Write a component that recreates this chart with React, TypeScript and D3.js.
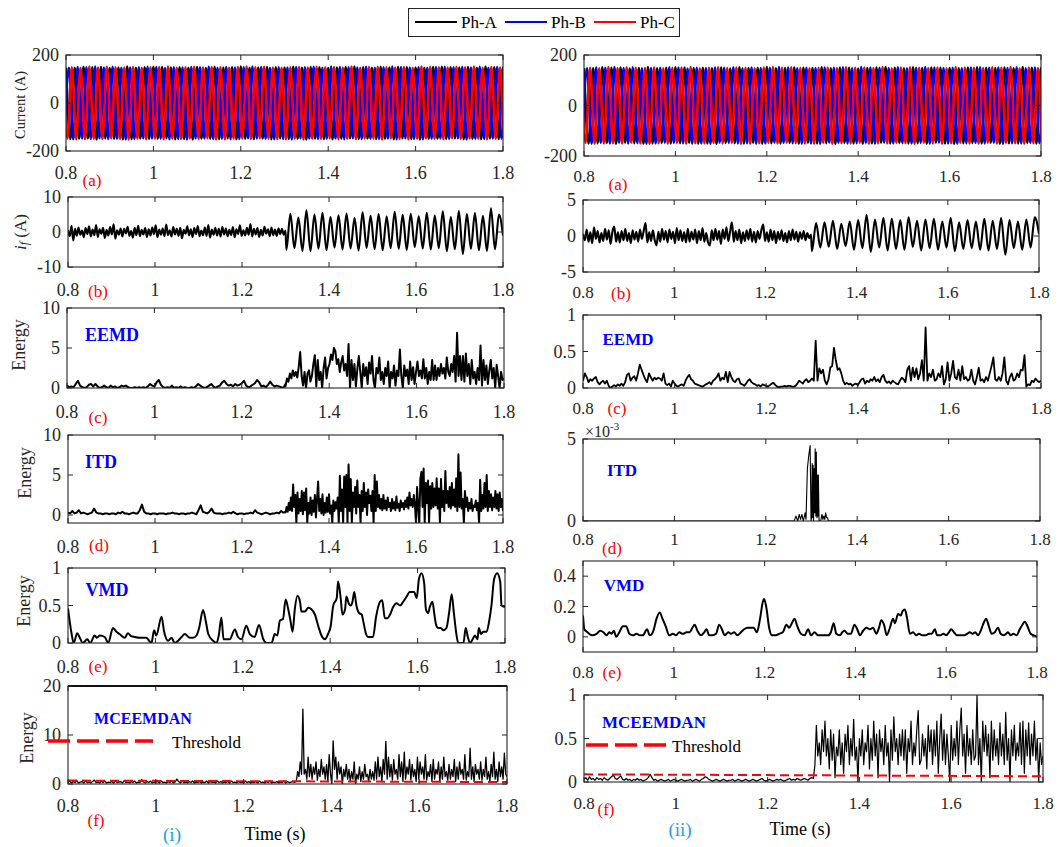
import React from "react";
import * as d3 from "d3";

const FONT = "'Liberation Serif', 'Times New Roman', Times, serif";
const INK = "#262626";

const timeTicks = [0.8, 1, 1.2, 1.4, 1.6, 1.8];
const timeDomain: [number, number] = [0.8, 1.8];

// ---------- (a) three-phase currents: successive peak / trough values, one every half cycle (0.01 s)
const halfPeriod = 0.01;
const phaseAStart = 0.8;
const phaseBStart = 0.79667;
const phaseCStart = 0.79333;
const phaseA = [148,-150,147,-149,151,-148,149,-152,150,-147,146,-149,148,-151,152,-150,147,-148,149,-150,151,-149,150,-147,148,-151,149,-150,147,-152,150,-148,146,-149,151,-150,148,-147,149,-151,152,-149,147,-150,148,-148,150,-151,149,-147,148,-150,151,-149,147,-152,150,-148,149,-150,146,-151,148,-149,150,-147,152,-150,149,-148,147,-150,151,-149,148,-151,150,-147,149,-150,148,-152,147,-149,150,-148,151,-150,149,-147,148,-151,150,-149,147,-150,152,-148,149,-150,148,-149];
const phaseB = [-149,147,-151,150,-148,149,-150,152,-147,148,-150,151,-149,147,-152,148,-150,149,-147,151,-148,150,-149,146,-151,149,-150,148,-152,150,-147,149,-148,151,-150,147,-149,150,-151,148,-150,149,-147,152,-148,150,-149,147,-151,149,-150,148,-152,150,-147,149,-148,151,-150,147,-149,152,-148,150,-151,149,-147,148,-150,151,-149,147,-150,149,-148,152,-151,150,-147,148,-150,149,-151,147,-149,150,-148,151,-150,149,-147,150,-152,148,-149,151,-150,147,-148,150,-149,148];
const phaseC = [150,-148,149,-151,147,-150,152,-149,148,-150,151,-147,149,-150,148,-152,150,-149,147,-151,149,-148,150,-151,152,-149,147,-150,149,-148,151,-150,148,-147,150,-152,149,-151,147,-149,150,-148,152,-150,149,-147,151,-149,148,-150,147,-151,149,-148,150,-152,148,-149,151,-150,149,-147,150,-151,148,-149,152,-150,147,-148,150,-149,151,-152,149,-147,148,-150,150,-151,147,-149,152,-148,150,-150,149,-151,148,-147,151,-150,149,-148,152,-149,147,-151,150,-149,148,-150,151];

// ---------- (b) fault current i_f
const ifLeftPre = [0.5,-1.2,1.8,-2.4,0.9,-1.1,1.3,-0.8,0.4,-1.5,1.1,-0.6,1.6,-1.3,0.7,-0.9,2.0,-1.4,0.8,-0.5,1.2,-1.7,0.6,-1.0,1.4,-0.7,2.2,-1.9,0.5,-0.8,1.0,-1.3,0.9,-0.4,1.5,-1.1,0.3,-1.6,1.2,-0.9,1.8,-1.2,0.6,-0.7,1.1,-1.4,0.8,-1.0,1.3,-0.6,1.9,-1.5,0.7,-0.8,1.0,-1.2,2.1,-0.9,0.5,-1.3,1.4,-0.7,0.9,-1.1,1.2,-1.8,0.6,-0.5,1.6,-1.0,0.8,-1.4,1.1,-0.6,1.7,-1.2,0.4,-0.9,1.3,-1.1,2.0,-1.6,0.7,-0.8,1.2,-1.0,0.9,-1.3,1.5,-0.7,1.0,-1.2,0.6,-0.9,1.4,-1.5,0.8,-0.6,1.9,-1.1,0.5,-1.0,1.2,-0.8,2.3,-1.3,0.9,-0.7,1.1,-1.4,0.6,-1.0,1.5,-0.5,0.8,-1.2,1.3,-0.9,0.7,-1.1,1.0,-0.6,0.9,-0.8,0.4];
const ifLeftPost = [-5.1,5.2,-4.6,4.1,-5.4,6.2,-5.5,5.0,-4.8,5.5,-5.2,4.3,-4.4,4.8,-5.0,5.3,-4.7,4.0,-5.3,5.6,-4.5,4.6,-4.9,5.1,-5.2,4.4,-4.6,5.8,-4.8,4.9,-5.1,5.2,-4.3,4.5,-4.7,5.5,-5.0,4.7,-4.6,5.9,-5.5,4.3,-4.9,6.0,-6.3,5.1,-4.8,5.4,-5.2,4.6,-5.4,6.8,-4.9,5.0,-1.0];
const ifRightPre = [0.3,-0.6,0.9,-0.8,0.5,-1.0,1.2,-0.4,0.7,-0.9,0.4,-0.7,1.0,-0.5,0.8,-1.1,0.6,1.3,-0.8,0.5,-0.9,0.7,-0.6,1.0,-0.7,0.4,-1.0,0.8,-0.5,0.6,-0.8,0.9,-0.4,0.7,1.8,-0.9,0.5,-0.7,0.8,-0.6,-1.3,0.6,-0.8,1.0,-0.5,0.7,-0.9,0.9,-0.4,0.6,-1.0,1.1,-0.6,0.8,-0.7,0.5,-0.9,1.0,-0.8,0.6,-0.5,0.9,-1.0,0.7,-0.6,1.1,-0.8,0.4,-0.9,-1.3,0.8,-0.6,1.0,-0.5,0.7,-1.1,0.9,-0.4,1.2,-0.7,0.6,1.9,-0.8,0.7,-0.6,0.9,-1.0,0.5,-0.7,0.8,-0.5,1.0,-0.8,0.6,-0.9,0.7,-0.4,0.8,1.6,-0.7,0.5,-0.8,0.9,-0.6,0.7,-1.0,0.6,-0.5,0.8,-0.7,0.4,-0.9,0.7,-0.6,0.9,-0.5,0.6,-0.8,0.5,-0.4,0.7,-0.6,0.4,-0.3,0.2];
const ifRightPost = [-2.1,1.8,-1.6,1.9,-1.5,2.1,-1.8,1.7,-1.4,2.0,-1.9,2.2,-1.7,2.9,-2.2,2.3,-1.6,2.5,-2.0,2.4,-1.8,2.2,-1.9,2.6,-1.5,2.1,-2.0,2.3,-1.7,2.4,-1.9,2.0,-1.6,2.5,-2.1,1.9,-1.8,2.2,-1.7,2.0,-1.9,2.4,-2.0,2.1,-1.8,2.5,-2.6,2.2,-1.7,2.0,-1.9,2.3,-1.6,2.6,0.3];

// ---------- (c) EEMD energy
const eemdLeftPre = [0.3,0.1,0.2,0.1,0.5,0.9,0.3,0.1,0.0,0.1,0.4,0.5,0.2,0.5,0.2,0.0,0.1,0.3,0.1,0.0,0.3,0.1,0.2,0.0,0.1,0.3,0.2,0.3,0.1,0.0,0.0,0.1,0.0,0.1,0.0,0.1,0.0,0.2,0.5,0.3,0.2,0.7,1.0,0.4,0.1,0.0,0.1,0.0,0.3,0.0,0.1,0.0,0.2,0.0,0.1,0.0,0.0,0.1,0.0,0.2,0.5,0.3,0.1,0.0,0.1,0.3,0.5,0.2,0.0,0.2,0.3,0.7,0.9,0.5,0.3,0.4,0.2,0.5,0.3,0.4,0.6,0.9,0.3,0.1,0.2,0.4,0.6,1.0,0.7,0.2,0.3,0.1,0.4,0.8,0.4,0.2,0.3,0.2,0.1,0.0,0.5];
const eemdLeftPost = [0.2,1.2,0.8,1.8,1.2,2.2,1.5,2.0,1.3,2.6,4.5,1.5,0.3,2.0,0.0,1.8,2.2,0.8,1.5,3.0,4.1,0.2,3.5,1.0,2.0,0.0,2.5,3.8,1.2,2.5,3.0,4.2,3.5,5.0,4.6,3.0,3.6,2.0,3.2,4.0,2.2,3.0,1.5,5.5,0.0,3.5,1.0,3.0,0.2,2.4,4.0,2.0,0.0,3.0,1.5,2.6,0.5,3.2,1.8,4.0,1.0,0.0,2.5,1.8,3.8,1.0,2.0,0.5,2.5,1.5,3.3,0.0,2.0,1.2,2.8,0.3,2.2,1.5,4.8,1.5,0.0,2.8,1.5,2.3,0.5,3.3,1.0,2.6,0.5,2.0,3.3,1.5,2.2,1.2,3.6,1.2,2.5,0.5,2.0,1.0,3.5,1.0,2.8,1.0,2.5,1.5,3.0,1.8,2.5,1.2,3.8,2.0,1.5,3.0,2.0,4.0,0.8,6.9,1.5,4.0,1.0,4.0,0.8,4.3,1.5,3.0,0.5,3.5,1.2,2.0,0.5,2.5,1.0,5.3,0.3,3.5,1.0,2.8,0.5,2.2,3.5,1.2,2.5,0.0,2.9,1.5,0.0,2.0,1.0,1.2];
const eemdRight = [0.1,0.2,0.15,0.08,0.12,0.1,0.13,0.15,0.08,0.05,0.08,0.1,0.06,0.1,0.03,0.0,0.02,0.04,0.02,0.05,0.03,0.06,0.03,0.08,0.18,0.2,0.1,0.14,0.16,0.1,0.2,0.32,0.25,0.18,0.12,0.08,0.2,0.15,0.1,0.14,0.12,0.14,0.13,0.1,0.2,0.06,0.04,0.06,0.02,0.1,0.06,0.03,0.02,0.04,0.05,0.03,0.1,0.15,0.18,0.12,0.1,0.06,0.05,0.04,0.03,0.02,0.03,0.05,0.06,0.08,0.05,0.1,0.12,0.15,0.2,0.1,0.14,0.12,0.22,0.08,0.22,0.15,0.1,0.08,0.12,0.13,0.06,0.05,0.03,0.06,0.1,0.12,0.08,0.06,0.05,0.03,0.04,0.02,0.05,0.04,0.03,0.02,0.04,0.06,0.07,0.04,0.02,0.01,0.02,0.02,0.03,0.02,0.03,0.03,0.02,0.02,0.03,0.06,0.1,0.08,0.06,0.1,0.12,0.08,0.1,0.13,0.1,0.65,0.1,0.27,0.2,0.25,0.1,0.05,0.12,0.28,0.3,0.55,0.38,0.25,0.27,0.2,0.1,0.05,0.07,0.05,0.06,0.03,0.05,0.06,0.04,0.08,0.12,0.13,0.06,0.1,0.08,0.12,0.1,0.15,0.09,0.12,0.08,0.15,0.18,0.1,0.07,0.09,0.06,0.1,0.08,0.06,0.05,0.1,0.14,0.12,0.08,0.25,0.3,0.1,0.28,0.15,0.27,0.12,0.2,0.38,0.1,0.83,0.1,0.2,0.15,0.25,0.1,0.12,0.2,0.15,0.3,0.05,0.12,0.35,0.1,0.2,0.37,0.15,0.12,0.25,0.1,0.3,0.12,0.15,0.1,0.12,0.25,0.1,0.05,0.15,0.28,0.1,0.12,0.08,0.15,0.1,0.2,0.3,0.42,0.12,0.1,0.15,0.1,0.2,0.42,0.1,0.05,0.15,0.2,0.1,0.12,0.2,0.15,0.25,0.24,0.45,0.02,0.05,0.04,0.1,0.08,0.13,0.1,0.08,0.1];

// ---------- (d) ITD energy
const itdLeftPre = [0.3,0.2,0.5,0.2,0.3,0.6,0.2,0.3,0.2,0.1,0.2,0.3,0.8,0.3,0.2,0.2,0.1,0.2,0.2,0.1,0.2,0.2,0.1,0.3,0.2,0.4,0.2,0.2,0.1,0.2,0.3,0.2,0.2,0.6,1.3,0.4,0.2,0.2,0.1,0.2,0.2,0.1,0.2,0.2,0.2,0.1,0.2,0.2,0.3,0.2,0.2,0.1,0.2,0.2,0.1,0.2,0.2,0.3,0.2,0.1,0.6,1.2,0.4,0.3,0.2,0.4,0.8,0.3,0.2,0.2,0.2,0.1,0.2,0.2,0.3,0.2,0.4,0.2,0.1,0.2,0.2,0.1,0.2,0.2,0.3,0.2,0.6,0.3,0.2,0.1,0.2,0.3,0.2,0.1,0.2,0.2,0.3,0.2,0.5,0.3,0.4];
const itdLeftPost = [0.3,1.0,0.4,1.5,0.6,2.2,0.5,3.8,1.0,2.5,-1.0,2.8,0.2,2.0,0.5,3.0,0.1,2.8,0.6,3.3,-1.0,1.5,0.2,2.2,0.0,1.8,0.4,2.5,-0.3,2.0,4.2,0.5,2.0,0.2,2.6,0.0,1.5,0.3,2.2,0.4,2.6,0.2,1.2,-1.0,1.8,0.5,1.6,0.8,2.2,-1.0,4.9,0.5,3.2,-1.0,4.8,1.0,5.0,-1.0,6.3,0.5,4.5,-1.0,2.8,1.0,3.5,0.2,4.3,1.0,2.5,-1.0,3.0,0.5,4.0,1.0,2.8,0.0,3.2,1.5,2.4,0.5,3.0,-1.0,5.0,0.5,4.2,1.0,2.5,0.8,2.0,0.6,2.5,0.8,1.8,0.6,2.2,1.0,1.5,0.5,2.0,0.8,1.6,0.6,2.3,0.9,1.4,0.5,1.8,1.0,1.5,0.7,1.8,1.0,2.2,0.8,2.8,1.2,2.0,1.0,2.5,1.3,-1.0,3.5,1.0,-1.0,4.5,5.4,1.0,5.8,-1.0,4.0,1.5,4.3,-1.0,3.6,0.8,4.0,1.0,3.3,1.2,4.6,0.8,3.3,-1.0,4.5,1.0,3.0,0.5,5.5,1.5,3.0,1.0,3.5,0.8,4.0,1.2,3.2,1.0,4.6,0.5,7.6,1.0,5.3,0.8,2.0,-1.0,3.0,1.0,2.2,0.5,1.5,0.8,2.0,0.5,1.2,1.0,1.8,0.6,1.5,-1.0,4.4,0.5,2.5,0.8,4.0,1.0,5.0,0.5,3.0,1.0,2.6,0.6,2.2,1.0,3.0,0.8,2.6,0.5,2.8,1.0,2.0,0.5];
// right ITD, in units of 1e-3
const itdRightT = [0.8,1.262,1.266,1.27,1.273,1.276,1.279,1.282,1.286,1.288,1.291,1.294,1.297,1.299,1.3,1.3015,1.3025,1.3035,1.3045,1.306,1.307,1.308,1.3095,1.3105,1.312,1.313,1.314,1.315,1.3165,1.32,1.323,1.325,1.327,1.329,1.331,1.333,1.335,1.337,1.8];
const itdRightV = [0,0,0.3,0,0.4,0.1,0.4,0,0.5,0.1,3.2,4.0,4.6,0,0.2,3.5,0.2,3.4,0,3.2,0.5,4.4,0.3,4.2,0.2,2.8,0.3,2.8,0,0,0.4,0.1,0.3,0.1,0.5,0.2,0.2,0,0];

// ---------- (e) VMD energy (time, value)
const vmdLeftT = [0.8,0.808,0.813,0.821,0.827,0.834,0.844,0.851,0.861,0.866,0.873,0.884,0.892,0.903,0.911,0.918,0.93,0.937,0.945,0.953,0.964,0.979,0.991,0.997,1.002,1.014,1.02,1.029,1.037,1.044,1.06,1.067,1.079,1.086,1.094,1.1,1.109,1.115,1.121,1.132,1.14,1.145,1.151,1.156,1.17,1.182,1.189,1.197,1.208,1.216,1.227,1.237,1.247,1.254,1.266,1.273,1.279,1.285,1.292,1.298,1.304,1.309,1.314,1.319,1.325,1.331,1.334,1.342,1.35,1.357,1.365,1.373,1.38,1.388,1.395,1.401,1.407,1.415,1.418,1.424,1.428,1.434,1.437,1.443,1.447,1.451,1.455,1.46,1.466,1.472,1.476,1.482,1.487,1.498,1.505,1.514,1.519,1.525,1.531,1.537,1.544,1.552,1.56,1.567,1.575,1.582,1.592,1.598,1.603,1.609,1.615,1.619,1.624,1.628,1.634,1.638,1.642,1.647,1.653,1.659,1.666,1.672,1.678,1.683,1.688,1.693,1.705,1.71,1.715,1.72,1.726,1.731,1.737,1.74,1.745,1.75,1.758,1.764,1.769,1.775,1.782,1.789,1.792,1.8];
const vmdLeftV = [0.46,0.13,0,0.13,0.07,0,0.05,0,0.1,0.07,0.1,0.08,0,0.2,0.15,0.12,0.07,0.13,0.09,0.08,0.07,0.07,0,0.17,0.1,0.35,0.15,0.03,0.07,0,0.08,0.12,0.07,0.07,0.1,0.2,0.44,0.3,0.12,0.03,0,0.1,0.34,0.05,0.05,0.18,0.08,0.05,0.23,0.12,0.08,0.24,0.05,0,0,0.12,0.1,0.3,0.32,0.58,0.45,0.3,0.15,0.45,0.63,0.55,0.42,0.42,0.47,0.45,0.38,0.22,0.1,0.05,0.12,0.22,0.5,0.6,0.82,0.6,0.38,0.45,0.62,0.52,0.5,0.55,0.68,0.5,0.4,0.38,0.28,0.12,0.08,0.08,0.35,0.55,0.57,0.33,0.33,0.38,0.48,0.53,0.5,0.55,0.62,0.68,0.68,0.6,0.85,0.93,0.8,0.45,0.4,0.48,0.55,0.4,0.25,0.2,0.2,0.17,0.2,0.4,0.65,0.4,0.15,0,0,0.2,0.08,0,0.05,0.1,0.05,0.2,0.12,0.15,0.15,0.3,0.5,0.85,0.93,0.82,0.5,0.48];
const vmdRightT = [0.8,0.803,0.81,0.82,0.83,0.838,0.845,0.852,0.858,0.863,0.868,0.873,0.88,0.888,0.895,0.902,0.91,0.918,0.925,0.932,0.941,0.947,0.955,0.962,0.969,0.975,0.982,0.99,0.998,1.005,1.012,1.02,1.028,1.035,1.041,1.046,1.052,1.06,1.067,1.072,1.078,1.085,1.093,1.1,1.106,1.112,1.12,1.126,1.133,1.14,1.148,1.155,1.163,1.17,1.176,1.183,1.19,1.196,1.199,1.204,1.21,1.216,1.225,1.232,1.24,1.248,1.254,1.26,1.266,1.272,1.28,1.288,1.296,1.302,1.31,1.318,1.326,1.333,1.34,1.346,1.352,1.358,1.366,1.371,1.376,1.383,1.39,1.398,1.404,1.41,1.417,1.424,1.432,1.439,1.446,1.452,1.457,1.463,1.469,1.476,1.483,1.487,1.494,1.5,1.504,1.509,1.514,1.52,1.527,1.534,1.54,1.547,1.555,1.562,1.568,1.575,1.58,1.587,1.594,1.6,1.606,1.611,1.617,1.624,1.632,1.64,1.646,1.652,1.658,1.664,1.67,1.676,1.681,1.688,1.694,1.7,1.707,1.714,1.72,1.727,1.732,1.736,1.742,1.748,1.755,1.762,1.768,1.773,1.779,1.786,1.793,1.8];
const vmdRightV = [0.14,0.05,0.03,0.01,0.02,0.04,0.03,0.01,0.03,0.02,0.04,0,0.03,0.07,0.07,0.02,0.01,0.02,0.01,0.01,0.05,0.01,0.04,0.12,0.16,0.12,0.07,0.01,0.02,0.01,0.03,0.02,0.03,0.03,0.06,0.08,0.04,0.01,0.03,0.05,0.01,0.01,0.02,0.08,0.05,0.01,0.03,0.02,0.03,0.01,0.03,0.05,0.06,0.06,0.06,0.03,0.12,0.23,0.25,0.19,0.06,0.01,0.01,0.02,0.03,0.08,0.06,0.09,0.12,0.07,0.02,0.01,0.05,0.01,0.03,0.01,0.01,0.01,0.01,0.03,0.09,0.02,0.01,0.03,0.04,0.02,0.02,0.08,0.05,0.01,0.04,0.06,0.05,0.06,0.02,0.06,0.11,0.08,0.01,0.06,0.12,0.09,0.15,0.14,0.17,0.18,0.12,0.02,0.03,0.01,0.02,0.01,0.01,0.02,0.02,0.05,0.01,0.01,0.02,0.01,0.03,0.05,0.03,0.01,0.01,0.01,0.02,0.03,0.02,0.03,0.01,0.04,0.08,0.12,0.07,0.02,0.03,0.06,0.02,0.01,0.02,0.03,0.01,0.02,0.01,0.05,0.08,0.1,0.07,0.02,0.01,0];

// ---------- (f) MCEEMDAN energy and threshold
const mceLeftPre = [0.3,0.6,0.2,0.5,0.3,0.7,0.2,0.4,0.5,0.2,0.6,0.3,0.4,0.2,0.5,0.8,0.3,0.4,0.2,0.5,0.3,0.6,0.2,0.4,0.3,0.5,0.2,0.6,0.3,0.4,0.5,0.2,0.7,0.3,0.4,0.2,0.5,0.3,0.6,0.2,0.4,0.3,0.9,0.4,0.2,0.5,0.3,0.6,0.2,0.4,0.3,0.5,0.2,0.6,0.3,0.4,0.2,0.5,0.3,0.7,0.2,0.4,1.0,0.5,0.2,0.6,0.3,0.4,0.2,0.5,0.3,0.6,0.2,0.4,0.3,0.5,0.2,0.4,0.3,0.6,0.2,0.5,0.3,0.4,0.2,0.6,0.3,0.5,0.2,0.4,0.3,0.5,0.2,0.6,0.3,0.4,0.2,0.5,0.3,0.4,0.2,0.6,0.3,0.5,0.2,0.4,0.3,0.5,0.2,0.6,0.3,0.4,0.2,0.5,0.3,0.6,0.2,0.4,0.3,0.5,0.2,0.4,0.3,0.6,0.2,0.5,0.3,0.4,0.5,0.3,0.6];
const mceLeftPost = [0.5,2.5,1.5,4.5,2.0,15.3,2.0,3.0,1.0,5.5,1.5,4.0,1.0,3.5,2.0,4.5,0.8,3.0,1.5,5.0,2.0,3.5,1.0,4.0,0.5,6.0,2.0,0.0,8.8,3.0,5.5,1.0,4.5,2.0,3.5,0.0,3.0,1.5,4.0,1.0,3.0,0.5,2.5,1.0,4.5,0.0,2.0,1.0,3.5,0.5,2.5,1.0,4.0,1.5,2.0,0.5,3.0,1.0,2.5,0.8,4.5,1.0,5.5,1.5,3.5,0.5,5.0,2.0,8.7,1.0,5.5,1.5,4.0,0.8,5.0,2.0,3.0,1.0,6.0,1.5,4.5,0.5,6.5,1.0,3.5,2.0,5.0,0.8,4.0,1.5,3.0,0.5,5.5,1.0,4.5,2.0,3.5,1.0,6.0,0.8,2.5,1.5,4.0,0.5,5.0,1.0,3.0,2.0,4.5,0.5,3.5,1.0,5.5,1.5,2.5,0.8,4.0,1.0,3.0,1.5,5.0,0.5,3.5,1.0,4.5,2.0,3.0,1.0,6.0,0.8,2.5,1.5,7.3,1.0,3.5,0.5,4.0,2.0,3.0,1.0,4.5,0.8,3.0,1.5,5.5,1.0,2.5,0.5,4.0,1.5,6.5,1.0,3.0,0.5,4.5,1.5,3.5,1.0,6.3,2.0,1.5];
const mceRightPre = [0.03,0.05,0.02,0.06,0.03,0.04,0.02,0.05,0.03,0.04,0.02,0.05,0.03,0.02,0.04,0.06,0.08,0.04,0.03,0.05,0.07,0.03,0.02,0.04,0.02,0.03,0.01,0.03,0.02,0.04,0.02,0.03,0.01,0.02,0.03,0.05,0.09,0.05,0.02,0.03,0.01,0.02,0.03,0.02,0.01,0.02,0.03,0.01,0.02,0.03,0.02,0.01,0.02,0.03,0.02,0.01,0.02,0.02,0.03,0.01,0.02,0.03,0.02,0.01,0.03,0.04,0.06,0.05,0.03,0.02,0.01,0.02,0.03,0.02,0.01,0.02,0.03,0.02,0.01,0.02,0.02,0.03,0.01,0.02,0.03,0.02,0.01,0.02,0.03,0.02,0.01,0.02,0.03,0.02,0.01,0.02,0.03,0.04,0.02,0.01,0.02,0.03,0.02,0.01,0.02,0.03,0.02,0.03,0.02,0.01,0.02,0.03,0.04,0.02,0.03,0.02,0.04,0.03,0.02,0.03,0.04,0.03,0.02,0.04,0.05,0.04];
const mceRightPost = [0.05,0.2,0.65,0.3,0.45,0.2,0.6,0.35,0.7,0.3,0.5,0.15,0.6,0.25,0.55,0.05,0.4,0.3,0.6,0.2,0.45,0.1,0.55,0.35,0.65,0.2,0.5,0.3,0.72,0.25,0.4,0.0,0.5,0.3,0.6,0.2,0.45,0.35,0.65,0.15,0.5,0.25,0.7,0.3,0.55,0.05,0.6,0.35,0.5,0.2,0.65,0.3,0.45,0.0,0.6,0.25,0.75,0.35,0.5,0.2,0.55,0.3,0.6,0.25,0.6,0.1,0.5,0.35,0.7,0.2,0.45,0.3,0.6,0.82,0.2,0.25,0.55,0.3,0.5,0.15,0.65,0.35,0.6,0.2,0.6,0.3,0.7,0.1,0.5,0.78,0.25,0.6,0.2,0.55,0.3,0.0,0.65,0.25,0.5,0.3,0.7,0.2,0.6,0.85,0.3,0.55,0.1,0.65,0.3,0.5,0.2,0.6,0.25,0.3,1.0,0.2,0.5,0.0,0.7,0.35,0.65,0.3,0.55,0.05,0.7,0.25,0.6,0.3,0.5,0.2,0.68,0.3,0.55,0.2,0.8,0.25,0.5,0.0,0.6,0.3,0.65,0.25,0.45,0.3,0.68,0.2,0.7,0.1,0.6,0.3,0.68,0.2,0.55,0.3,0.7,0.25,0.5,0.0,0.45,0.2,0.3];
const thresholdT = [0.8, 1.8];
const thresholdLeft = [0.7, 0.4];
const thresholdRight = [0.088, 0.066];

// ---------- helpers
type Pt = [number, number];
const even = (t0: number, t1: number, vals: number[]): Pt[] =>
  vals.map((v, i) => [t0 + (i * (t1 - t0)) / (vals.length - 1), v]);
const stepped = (t0: number, dt: number, vals: number[]): Pt[] => vals.map((v, i) => [t0 + i * dt, v]);
const zipPts = (ts: number[], vs: number[]): Pt[] => ts.map((t, i) => [t, vs[i]]);

type Series = { pts: Pt[]; color: string; w: number; curve?: any; dash?: string };
type PanelProps = {
  id: string;
  box: [number, number, number, number];
  yDomain: [number, number];
  yTicks: number[];
  xDy: number;
  series: Series[];
  thickTop?: boolean;
  xFont?: number;
  yFont?: number;
};

function Panel(p: PanelProps) {
  const [l, t, r, b] = p.box;
  const x = d3.scaleLinear().domain(timeDomain).range([l, r]);
  const y = d3.scaleLinear().domain(p.yDomain).range([b, t]);
  const tl = 5;
  return (
    <g>
      <defs>
        <clipPath id={p.id}>
          <rect x={l} y={t} width={r - l} height={b - t} />
        </clipPath>
      </defs>
      <g clipPath={`url(#${p.id})`}>
        {p.series.map((s, i) => {
          const gen = d3
            .line<Pt>()
            .x((d) => x(d[0]))
            .y((d) => y(d[1]))
            .curve(s.curve || d3.curveLinear);
          return (
            <path
              key={i}
              d={gen(s.pts) || ""}
              fill="none"
              stroke={s.color}
              strokeWidth={s.w}
              strokeDasharray={s.dash}
              strokeLinejoin="round"
            />
          );
        })}
      </g>
      <rect x={l} y={t} width={r - l} height={b - t} fill="none" stroke={INK} strokeWidth={1.1} />
      {p.thickTop && <line x1={l} x2={r} y1={t} y2={t} stroke="#111" strokeWidth={2.2} />}
      {timeTicks.map((v) => (
        <g key={"x" + v}>
          <line x1={x(v)} x2={x(v)} y1={b} y2={b - tl} stroke={INK} strokeWidth={1} />
          <line x1={x(v)} x2={x(v)} y1={t} y2={t + tl} stroke={INK} strokeWidth={1} />
          <text
            x={x(v)}
            y={b + p.xDy}
            textAnchor="middle"
            dominantBaseline="central"
            fontSize={p.xFont || 18}
            fill={INK}
            fontFamily={FONT}
          >
            {String(v)}
          </text>
        </g>
      ))}
      {p.yTicks.map((v) => (
        <g key={"y" + v}>
          <line x1={l} x2={l + tl} y1={y(v)} y2={y(v)} stroke={INK} strokeWidth={1} />
          <line x1={r} x2={r - tl} y1={y(v)} y2={y(v)} stroke={INK} strokeWidth={1} />
          <text
            x={l - 7}
            y={y(v)}
            textAnchor="end"
            dominantBaseline="central"
            fontSize={p.yFont || 18}
            fill={INK}
            fontFamily={FONT}
          >
            {String(v)}
          </text>
        </g>
      ))}
    </g>
  );
}

const RED = "#ff0000";
const BLUE = "#0000ff";
const CYAN = "#1aa3e8";

function currentSeries(): Series[] {
  const c = d3.curveMonotoneX;
  return [
    { pts: stepped(phaseAStart, halfPeriod, phaseA), color: "#000", w: 2.6, curve: c },
    { pts: stepped(phaseBStart, halfPeriod, phaseB), color: BLUE, w: 2.6, curve: c },
    { pts: stepped(phaseCStart, halfPeriod, phaseC), color: RED, w: 2.6, curve: c },
  ];
}

function RotLabel({ x, y, size, children }: { x: number; y: number; size: number; children: any }) {
  return (
    <text
      transform={`translate(${x},${y}) rotate(-90)`}
      textAnchor="middle"
      dominantBaseline="central"
      fontSize={size}
      fill={INK}
      fontFamily={FONT}
    >
      {children}
    </text>
  );
}

function Tag({ x, y, text, color, size = 17, bold = false, anchor = "middle" }: any) {
  return (
    <text
      x={x}
      y={y}
      textAnchor={anchor}
      dominantBaseline="central"
      fontSize={size}
      fill={color}
      fontWeight={bold ? "bold" : "normal"}
      fontFamily={FONT}
    >
      {text}
    </text>
  );
}

export default function App() {
  const black = "#000";
  const thrL = zipPts(thresholdT, thresholdLeft);
  const thrR = zipPts(thresholdT, thresholdRight);
  const smooth = d3.curveMonotoneX;
  return (
    <svg
      width={1060}
      height={847}
      style={{ position: "absolute", left: 0, top: 0, background: "#fff", fontFamily: FONT }}
    >
      <rect x={0} y={0} width={1060} height={847} fill="#fff" />
      {/* legend */}
      <g>
        <rect x={408.5} y={8.5} width={271} height={28} fill="#fff" stroke={INK} strokeWidth={1} />
        <line x1={415} x2={457} y1={22} y2={22} stroke="#000" strokeWidth={2} />
        <Tag x={461} y={22} text="Ph-A" color="#000" anchor="start" />
        <line x1={505} x2={547} y1={22} y2={22} stroke={BLUE} strokeWidth={2} />
        <Tag x={551} y={22} text="Ph-B" color="#000" anchor="start" />
        <line x1={594} x2={636} y1={22} y2={22} stroke={RED} strokeWidth={2} />
        <Tag x={640} y={22} text="Ph-C" color="#000" anchor="start" />
      </g>

      {/* ---------- left column ---------- */}
      <Panel id="la" box={[66, 55, 503, 151]} yDomain={[-200, 200]} yTicks={[-200, 0, 200]} xDy={22} series={currentSeries()} />
      <RotLabel x={20} y={105} size={14.5}>Current (A)</RotLabel>
      <Tag x={92} y={180} text="(a)" color={RED} />

      <Panel
        id="lb"
        box={[68, 197, 503, 267]}
        yDomain={[-10, 10]}
        yTicks={[-10, 0, 10]}
        xDy={23}
        series={[{ pts: [...even(0.8, 1.3, ifLeftPre), ...even(1.302, 1.8, ifLeftPost)], color: black, w: 2.1, curve: smooth }]}
      />
      <text transform="translate(20,232) rotate(-90)" textAnchor="middle" dominantBaseline="central" fontSize={17} fill={INK} fontFamily={FONT}>
        <tspan fontStyle="italic">i</tspan>
        <tspan fontStyle="italic" fontSize={12} dy={4}>f</tspan>
        <tspan dy={-4}> (A)</tspan>
      </text>
      <Tag x={98} y={291} text="(b)" color={RED} />

      <Panel
        id="lc"
        box={[67, 308, 504, 388]}
        yDomain={[0, 10]}
        yTicks={[0, 5, 10]}
        xDy={24}
        series={[{ pts: [...even(0.8, 1.3, eemdLeftPre), ...even(1.3, 1.8, eemdLeftPost)], color: black, w: 2 }]}
      />
      <RotLabel x={19} y={345} size={18}>Energy</RotLabel>
      <Tag x={112} y={335} text="EEMD" color={BLUE} bold size={18} />
      <Tag x={98} y={417} text="(c)" color={RED} />

      <Panel
        id="ld"
        box={[68, 435, 503, 523]}
        yDomain={[-1, 10]}
        yTicks={[0, 5, 10]}
        xDy={24}
        series={[{ pts: [...even(0.8, 1.3, itdLeftPre), ...even(1.3, 1.8, itdLeftPost)], color: black, w: 2 }]}
      />
      <RotLabel x={25} y={473} size={18}>Energy</RotLabel>
      <Tag x={101} y={462} text="ITD" color={BLUE} bold size={18} />
      <Tag x={99} y={545} text="(d)" color={RED} />

      <Panel
        id="le"
        box={[68, 568, 505, 643]}
        yDomain={[0, 1]}
        yTicks={[0, 0.5, 1]}
        xDy={24}
        series={[{ pts: zipPts(vmdLeftT, vmdLeftV), color: black, w: 2, curve: smooth }]}
      />
      <RotLabel x={24} y={601} size={18}>Energy</RotLabel>
      <Tag x={107} y={590} text="VMD" color={BLUE} bold size={18} />
      <Tag x={98} y={666} text="(e)" color={RED} />

      <Panel
        id="lf"
        box={[68, 686, 507, 784]}
        yDomain={[0, 20]}
        yTicks={[0, 10, 20]}
        xDy={22}
        thickTop
        series={[
          { pts: [...even(0.8, 1.32, mceLeftPre), ...even(1.32, 1.8, mceLeftPost)], color: black, w: 1.3 },
          { pts: thrL, color: RED, w: 2, dash: "9 5" },
        ]}
      />
      <RotLabel x={27} y={738} size={18}>Energy</RotLabel>
      <Tag x={143} y={718} text="MCEEMDAN" color={BLUE} bold size={16} />
      <line x1={48} x2={153} y1={741} y2={741} stroke={RED} strokeWidth={3.5} strokeDasharray="22 7" />
      <Tag x={172} y={742} text="Threshold" color="#000" anchor="start" />
      <Tag x={96} y={820} text="(f)" color={RED} />
      <Tag x={172} y={834} text="(i)" color={CYAN} size={19} />
      <Tag x={275} y={834} text="Time (s)" color="#000" size={18} />

      {/* ---------- right column ---------- */}
      <Panel id="ra" box={[584, 55, 1041, 156]} yDomain={[-200, 200]} yTicks={[-200, 0, 200]} xDy={20} xFont={17} series={currentSeries()} />
      <Tag x={618} y={184} text="(a)" color={RED} />

      <Panel
        id="rb"
        box={[583, 200, 1039, 272]}
        yDomain={[-5, 5]}
        yTicks={[-5, 0, 5]}
        xDy={20}
        xFont={17}
        series={[{ pts: [...even(0.8, 1.3, ifRightPre), ...even(1.302, 1.8, ifRightPost)], color: black, w: 2.1, curve: smooth }]}
      />
      <Tag x={621} y={293} text="(b)" color={RED} />

      <Panel
        id="rc"
        box={[583, 315, 1041, 388]}
        yDomain={[0, 1]}
        yTicks={[0, 0.5, 1]}
        xDy={20}
        xFont={17}
        series={[{ pts: even(0.8, 1.8, eemdRight), color: black, w: 1.8 }]}
      />
      <Tag x={628} y={339} text="EEMD" color={BLUE} bold size={17} />
      <Tag x={617} y={408} text="(c)" color={RED} />

      <Panel
        id="rd"
        box={[583, 439, 1040, 521]}
        yDomain={[0, 5]}
        yTicks={[0, 5]}
        xDy={18}
        xFont={17}
        series={[{ pts: zipPts(itdRightT, itdRightV), color: black, w: 1.1 }]}
      />
      <text x={585} y={431} dominantBaseline="central" fontSize={16} fill={INK} fontFamily={FONT}>
        ×10<tspan fontSize={11} dy={-5}>-3</tspan>
      </text>
      <Tag x={622} y={470} text="ITD" color={BLUE} bold size={17} />
      <Tag x={612} y={548} text="(d)" color={RED} />

      <Panel
        id="re"
        box={[583, 561, 1037, 652]}
        yDomain={[-0.1, 0.5]}
        yTicks={[0, 0.2, 0.4]}
        xDy={20}
        xFont={17}
        series={[{ pts: zipPts(vmdRightT, vmdRightV), color: black, w: 2, curve: smooth }]}
      />
      <Tag x={624} y={585} text="VMD" color={BLUE} bold size={17} />
      <Tag x={612} y={672} text="(e)" color={RED} />

      <Panel
        id="rf"
        box={[584, 695, 1043, 782]}
        yDomain={[0, 1]}
        yTicks={[0, 0.5, 1]}
        xDy={21}
        xFont={17}
        series={[
          { pts: [...even(0.8, 1.3, mceRightPre), ...even(1.3, 1.8, mceRightPost)], color: black, w: 1.2 },
          { pts: thrR, color: RED, w: 2, dash: "9 5" },
        ]}
      />
      <Tag x={654} y={722} text="MCEEMDAN" color={BLUE} bold size={17} />
      <line x1={586} x2={666} y1={745} y2={745} stroke={RED} strokeWidth={3.5} strokeDasharray="22 7" />
      <Tag x={672} y={746} text="Threshold" color="#000" anchor="start" />
      <Tag x={606} y={809} text="(f)" color={RED} />
      <Tag x={680} y={829} text="(ii)" color={CYAN} size={19} />
      <Tag x={800} y={829} text="Time (s)" color="#000" size={18} />
    </svg>
  );
}
